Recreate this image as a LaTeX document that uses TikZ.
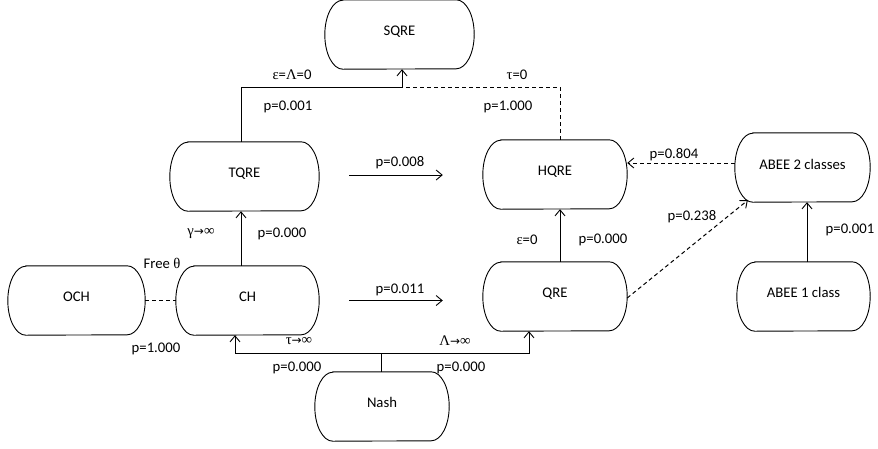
\documentclass[tikz,border=0pt]{standalone}
\usepackage{fontspec}
\setmainfont{Carlito}
\newfontfamily\symf{Liberation Serif}
\newfontfamily\arrf{DejaVu Sans}
\newcommand\rarr{{\arrf\fontsize{12}{14}\selectfont →}}
\usetikzlibrary{arrows.meta,calc}
\tikzset{
  box/.style={draw=none,inner sep=0pt,font=\fontsize{14.7}{17}\selectfont},
  boxline/.style={line width=0.9pt,black},
  lab/.style={inner sep=0pt,font=\fontsize{14.7}{17}\selectfont},
  conn/.style={line width=1pt,black},
  arr/.style={conn,-{Straight Barb[length=6pt,width=10pt,line width=0.9pt]}},
  dsh/.style={dash pattern=on 4pt off 3pt}
}
\newcommand\termbox[1]{%
  \draw[boxline] ([xshift=18pt]#1.north west) -- ([xshift=-18pt]#1.north east)
    arc[start angle=90,end angle=-90,x radius=18pt,y radius=34.5pt]
    -- ([xshift=18pt]#1.south west)
    arc[start angle=270,end angle=90,x radius=18pt,y radius=34.5pt] -- cycle;}
\begin{document}
\begin{tikzpicture}[x=1pt,y=-1pt]
\useasboundingbox (0,0) rectangle (878,448);
% nodes
\node[box,minimum width=149pt,minimum height=69pt] (SQRE) at (399.5,34.5) {\raisebox{8pt}{SQRE}};
\node[box,minimum width=149pt,minimum height=69pt] (TQRE) at (244.5,176.5) {\raisebox{7.5pt}{TQRE}};
\node[box,minimum width=143pt,minimum height=69pt] (CH) at (247.5,300.5) {\raisebox{7.5pt}{CH}};
\node[box,minimum width=137pt,minimum height=69pt] (OCH) at (76.5,300.5) {\raisebox{7.5pt}{OCH}};
\node[box,minimum width=144pt,minimum height=69pt] (HQRE) at (555,174.5) {\raisebox{7.5pt}{HQRE}};
\node[box,minimum width=144pt,minimum height=69pt] (QRE) at (555,296.5) {\raisebox{7.5pt}{QRE}};
\node[box,minimum width=135pt,minimum height=69pt] (ABEE2) at (802.5,167.5) {\raisebox{6.5pt}{ABEE 2 classes}};
\node[box,minimum width=133pt,minimum height=69pt] (ABEE1) at (803.5,296.5) {\raisebox{7.5pt}{ABEE 1 class}};
\node[box,minimum width=134pt,minimum height=69pt] (Nash) at (382,406.5) {\raisebox{7.5pt}{Nash}};
\foreach \n in {SQRE,TQRE,CH,OCH,HQRE,QRE,ABEE2,ABEE1,Nash} {\termbox{\n}}
% connectors
\coordinate (top) at (402,87);
\draw[conn] ([xshift=-3.5pt]TQRE.north) |- (top);
\draw[conn,dsh] ([xshift=5pt]HQRE.north) |- (top);
\draw[arr] (top) -- (top |- SQRE.south);
\draw[arr] ([xshift=-6.5pt]CH.north) -- ([xshift=-3.5pt]TQRE.south);
\draw[arr,shorten <=30pt,shorten >=40pt] ([yshift=1.5pt]TQRE.east) -- ([yshift=1.5pt]TQRE.east -| HQRE.west);
\draw[arr,shorten <=30pt,shorten >=40pt] (CH.east) -- (CH.east -| QRE.west);
\draw[conn,dsh] (OCH.east) -- (CH.west);
\draw[arr] ([xshift=5pt]QRE.north) -- ([xshift=5pt]HQRE.south);
\draw[arr,dsh] ([yshift=4.5pt]ABEE2.west) -- ([yshift=4.5pt]ABEE2.west -| HQRE.east);
\draw[arr,dsh] ([yshift=-1.5pt]QRE.east) -- ([xshift=13pt,yshift=2pt]ABEE2.south west);
\draw[arr] ([xshift=3.5pt]ABEE1.north) -- ([xshift=4.5pt]ABEE2.south);
\coordinate (nj) at (381,353);
\draw[conn] ([xshift=-1pt]Nash.north) -- (nj);
\draw[arr] (nj) -| ([xshift=-12.5pt]CH.south);
\draw[arr] (nj) -| ([xshift=-26pt]QRE.south);
% labels
\node[lab] (l1) at (292,75) {{\symf ε}={\symf Λ}=0};
\node[lab] (l2) at (517,75) {{\symf τ}=0};
\node[lab] (l3) at (288,107) {p=0.001};
\node[lab] (l4) at (508,107) {p=1.000};
\node[lab] (l5) at (400,163) {p=0.008};
\node[lab] (l6) at (201,234) {{\symf γ}\rarr{\symf ∞}};
\node[lab] (l7) at (282,234) {p=0.000};
\node[lab] (l8) at (162,263) {Free {\symf θ}};
\node[lab] (l9) at (400,290) {p=0.011};
\node[lab] (l10) at (674,155) {p=0.804};
\node[lab] (l11) at (692,217) {p=0.238};
\node[lab] (l12) at (527,240) {{\symf ε}=0};
\node[lab] (l13) at (603,240) {p=0.000};
\node[lab] (l14) at (850,230) {p=0.001};
\node[lab] (l15) at (156,349) {p=1.000};
\node[lab] (l16) at (299,341) {{\symf τ}\rarr{\symf ∞}};
\node[lab] (l17) at (455,341) {{\symf Λ}\rarr{\symf ∞}};
\node[lab] (l18) at (297,368) {p=0.000};
\node[lab] (l19) at (461,368) {p=0.000};
\end{tikzpicture}
\end{document}
